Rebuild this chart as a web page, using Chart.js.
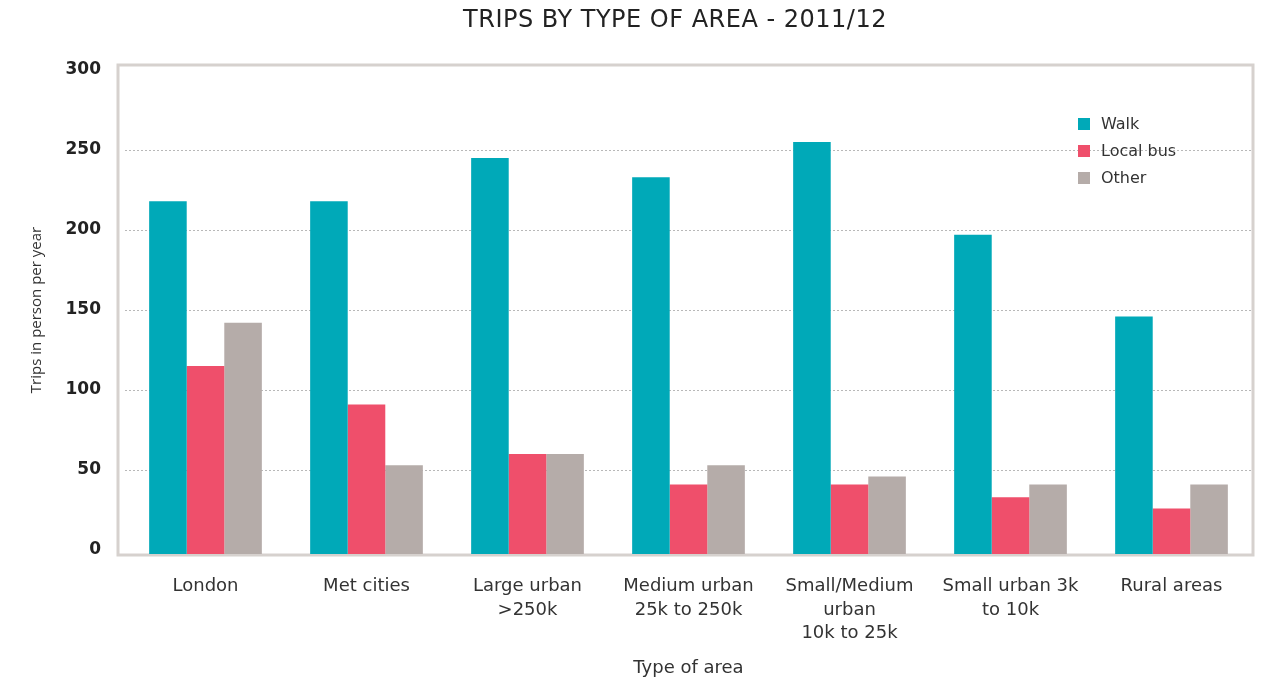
<!DOCTYPE html>
<html>
<head>
<meta charset="utf-8">
<script src="https://cdn.jsdelivr.net/npm/chart.js@4/dist/chart.umd.min.js"></script>
<style>
  html, body { margin: 0; padding: 0; background: #fff; }
  #wrap { width: 1266px; height: 684px; position: relative; }
</style>
</head>
<body>
<div id="wrap"><canvas id="tripsChart"></canvas></div>
<script>
const categories = [
  'London',
  'Met cities',
  ['Large urban', '>250k'],
  ['Medium urban', '25k to 250k'],
  ['Small/Medium', 'urban', '10k to 25k'],
  ['Small urban 3k', 'to 10k'],
  'Rural areas'
];
const walk = [218, 218, 245, 233, 255, 197, 146];
const localBus = [115, 91, 60, 41, 41, 33, 26];
const other = [142, 53, 60, 53, 46, 41, 41];
const yTicks = [0, 50, 100, 150, 200, 250, 300];

const FONT = '"DejaVu Sans", sans-serif';
const FONT2 = '"Open Sans", sans-serif';
const colors = { walk: '#00a9b8', bus: '#ef4f6b', other: '#b5aca9' };

// frame, title and legend drawn on top of chart
const extras = {
  id: 'extras',
  beforeDatasetsDraw(chart) {
    const { ctx, chartArea: a } = chart;
    ctx.save();
    ctx.strokeStyle = '#d6d1ce';
    ctx.lineWidth = 3;
    ctx.strokeRect(a.left - 7, a.top - 1, a.right - a.left + 8, a.bottom - a.top + 2);
    ctx.restore();
  },
  afterDraw(chart) {
    const { ctx } = chart;
    ctx.save();
    ctx.fillStyle = '#222';
    ctx.font = '24px ' + FONT;
    ctx.letterSpacing = '0.5px';
    ctx.textAlign = 'center';
    ctx.textBaseline = 'middle';
    ctx.fillText('TRIPS BY TYPE OF AREA - 2011/12', 675, 21);
    ctx.letterSpacing = '0px';

    ctx.font = '16px ' + FONT;
    ctx.textAlign = 'left';
    chart.data.datasets.forEach((ds, i) => {
      const y = 124 + i * 27;
      ctx.fillStyle = ds.backgroundColor;
      ctx.fillRect(1078, y - 6, 12, 12);
      ctx.fillStyle = '#333';
      ctx.fillText(ds.label, 1101, y + 1);
    });
    ctx.restore();
  }
};

new Chart(document.getElementById('tripsChart'), {
  type: 'bar',
  data: {
    labels: categories,
    datasets: [
      { label: 'Walk', data: walk, backgroundColor: colors.walk },
      { label: 'Local bus', data: localBus, backgroundColor: colors.bus },
      { label: 'Other', data: other, backgroundColor: colors.other }
    ]
  },
  options: {
    responsive: true,
    maintainAspectRatio: false,
    animation: false,
    layout: { padding: { top: 66, right: 14, left: 0, bottom: 0 } },
    datasets: { bar: { categoryPercentage: 0.7, barPercentage: 1.0, base: -2.5 } },
    plugins: {
      legend: { display: false },
      title: { display: false },
      tooltip: { enabled: false }
    },
    scales: {
      x: {
        grid: { display: false, drawTicks: false },
        border: { display: false },
        ticks: {
          color: '#333',
          font: { family: FONT, size: 18, lineHeight: 1.3 },
          padding: 21,
          maxRotation: 0,
          autoSkip: false
        },
        title: {
          display: true,
          text: 'Type of area',
          color: '#333',
          font: { family: FONT, size: 18 },
          padding: { top: 0, bottom: 5 }
        },
        afterFit(scale) { scale.height = 130; }
      },
      y: {
        min: -2.5,
        max: 302.5,
        afterBuildTicks(scale) { scale.ticks = yTicks.map(v => ({ value: v })); },
        grid: {
          drawTicks: false,
          color: ctx => (ctx.tick && (ctx.tick.value === 0 || ctx.tick.value === 300)) ? 'rgba(0,0,0,0)' : '#b8b8b8',
          lineWidth: 1
        },
        border: { display: false, dash: [2, 2] },
        ticks: {
          color: '#222',
          font: { family: FONT, size: 17, weight: 'bold' },
          padding: 24
        },
        title: {
          display: true,
          text: 'Trips in person per year',
          color: '#333',
          font: { family: FONT2, size: 15 },
          padding: { top: 28, bottom: 0 }
        },
        afterFit(scale) { scale.width = 125; }
      }
    }
  },
  plugins: [extras]
});
</script>
</body>
</html>
